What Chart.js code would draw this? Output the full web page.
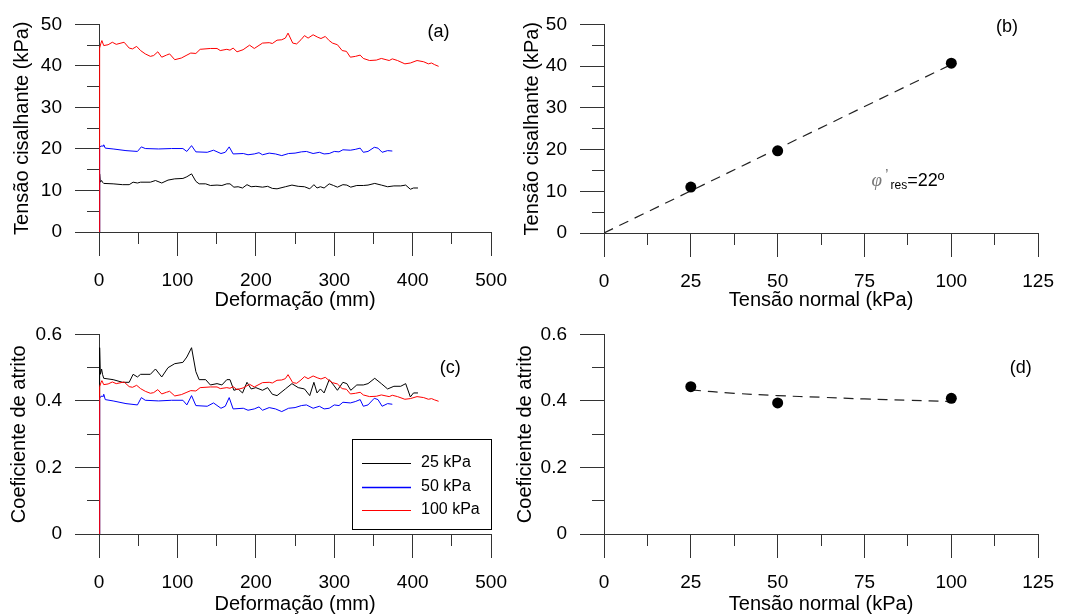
<!DOCTYPE html>
<html>
<head>
<meta charset="utf-8">
<script src="https://cdn.jsdelivr.net/npm/chart.js@4.4.1/dist/chart.umd.min.js"></script>
<style>
  html, body { margin: 0; padding: 0; background: #fff; }
  #wrap { position: relative; width: 1067px; height: 615px; overflow: hidden; }
  #wrap canvas { position: absolute; }
</style>
</head>
<body>
<div id="wrap">
  <canvas id="chartA" width="520" height="310" style="left:0;top:0"></canvas>
  <canvas id="chartB" width="557" height="310" style="left:510px;top:0"></canvas>
  <canvas id="chartC" width="520" height="305" style="left:0;top:310px"></canvas>
  <canvas id="chartD" width="557" height="305" style="left:510px;top:310px"></canvas>
</div>
<script>
// shear stress (kPa) vs displacement (mm), one test per normal stress
const disp25 = [0, 0.8, 1.7, 3.3, 4.5, 6, 18, 30, 38.5, 43.5, 49, 53, 65.5, 72, 80, 88, 96.6, 107, 112, 118, 123.5, 127.7, 136, 142, 150.5, 156.7, 163, 167, 172, 177.4, 183, 188.7, 194, 200, 208.5, 215, 221, 227, 237.6, 246, 254, 262, 268.7, 274, 278, 282.3, 287, 293.5, 299, 304, 311, 316, 321, 328.7, 337, 343, 351.6, 360, 368, 376, 384.7, 391, 397, 401, 406.7];
const tau25 = [0, 14.0, 12.0, 12.4, 12.0, 11.7, 11.6, 11.4, 11.4, 12.0, 11.8, 12.0, 12.0, 12.4, 11.8, 12.5, 12.8, 12.9, 13.3, 14.0, 12.2, 11.6, 11.6, 11.2, 11.3, 11.2, 11.6, 11.6, 10.8, 10.9, 10.6, 11.4, 10.9, 11.0, 10.8, 11.0, 10.5, 10.4, 10.9, 11.3, 11.0, 10.9, 10.4, 11.4, 10.6, 10.9, 10.6, 11.6, 11.2, 10.8, 11.4, 11.3, 10.8, 11.2, 11.2, 11.3, 11.7, 11.3, 10.9, 11.1, 11.1, 11.3, 10.3, 10.6, 10.6];

const disp50 = [0, 0.8, 2.5, 5.4, 6, 8, 18, 34.4, 49, 54, 59, 76, 92.5, 107, 112, 118, 123.5, 138, 146, 155.5, 161, 166, 171, 184, 190, 198, 204, 208.5, 217, 225, 233, 241.7, 250, 258, 264.5, 273, 281, 287, 293.5, 300, 306, 311, 320.5, 326.7, 333, 337, 343, 351, 355.7, 361, 368, 374];
const tau50 = [0, 20.4, 20.7, 20.7, 21.0, 20.2, 20.0, 19.6, 19.4, 20.5, 20.1, 20.0, 20.1, 20.1, 19.4, 20.8, 19.3, 19.2, 19.7, 18.9, 19.2, 20.5, 18.8, 18.9, 18.6, 18.8, 19.1, 18.6, 19.0, 18.8, 18.4, 18.9, 19.0, 19.3, 19.4, 18.9, 19.2, 18.8, 18.9, 19.4, 19.3, 19.8, 19.7, 19.9, 20.2, 19.2, 19.4, 20.4, 20.2, 19.2, 19.6, 19.5];

const disp100 = [0, 0.8, 2.5, 3.7, 6, 11.6, 17, 22, 32, 38.5, 42.7, 48, 53, 59, 65.5, 69.7, 75, 80, 86, 90, 96.6, 105, 111, 117, 123.5, 129, 142, 150.5, 154.6, 163, 167, 171, 176, 183.7, 192, 198, 208.5, 217, 221, 227, 233, 237.6, 241, 247, 252, 257.5, 262, 266.6, 273, 279, 283, 288.5, 293.5, 297.7, 304, 310, 315.5, 320.5, 327, 333, 337, 345, 353.6, 360, 366, 370, 374, 380.6, 390, 397, 405.5, 414, 420, 424, 428, 433];
const tau100 = [0, 44.3, 45.5, 46.1, 44.9, 45.1, 45.7, 45.2, 45.7, 44.3, 44.1, 44.7, 43.7, 42.9, 42.3, 42.5, 43.4, 42.1, 42.6, 42.9, 41.5, 41.9, 42.5, 43.1, 43.0, 44.0, 44.2, 44.2, 43.7, 44.0, 43.8, 44.3, 43.4, 43.9, 45.0, 44.2, 45.5, 45.6, 45.4, 46.2, 46.3, 46.7, 47.9, 45.5, 45.3, 46.3, 47.3, 46.7, 47.5, 46.9, 46.6, 47.1, 46.1, 45.5, 45.1, 43.7, 43.5, 42.1, 42.3, 42.6, 41.8, 41.3, 41.4, 41.8, 41.5, 41.3, 41.7, 41.3, 40.5, 40.7, 41.3, 41.0, 40.5, 40.7, 40.3, 39.9];

const seriesLabels = ['25 kPa', '50 kPa', '100 kPa'];
const seriesColors = ['#000000', '#0000ff', '#ff0000'];

// residual envelope (b) and friction coefficient (d)
const normalStress = [25, 50, 100];
const residualTau = [11.0, 19.7, 40.7];
const residualCoef = [0.443, 0.394, 0.408];
const envelopeX = [0, 100];
const envelopeY = [0, 40.4];
const coefFitX = [25, 37.5, 50, 62.5, 75, 87.5, 100];
const coefFitY = [0.433, 0.423, 0.416, 0.411, 0.406, 0.402, 0.398];

const FONT = '"Liberation Sans", Arial, Helvetica, sans-serif';
const AXIS = '#333';
Chart.defaults.font.family = FONT;
Chart.defaults.font.size = 19;
Chart.defaults.color = '#000';

const PANELS = {
  a: { w: 520, h: 310, area: { l: 99, t: 23, r: 501, b: 232 }, yTitlePad: 10, xTitlePad: -2 },
  b: { w: 557, h: 310, area: { l: 94, t: 24, r: 530, b: 233 }, yTitlePad: 10, xTitlePad: -2 },
  c: { w: 520, h: 305, area: { l: 99, t: 16, r: 501, b: 224 }, yTitlePad: 7, xTitlePad: -1 },
  d: { w: 557, h: 305, area: { l: 94, t: 16, r: 530, b: 224 }, yTitlePad: 3, xTitlePad: -1 },
};

const pts = (xs, ys) => xs.map((x, i) => ({ x, y: ys[i] }));
const fmt = (v) => String(Number(v.toFixed(2)));

function axis(p, isX, min, max, step, title) {
  return {
    type: 'linear', min, max,
    position: isX ? 'bottom' : 'left',
    ticks: { stepSize: step, autoSkip: false, maxRotation: 0, padding: 13, color: '#000',
      font: { size: 19 }, callback: fmt },
    grid: { drawOnChartArea: false, drawTicks: true, tickLength: 24, color: AXIS, lineWidth: 1 },
    border: { display: true, color: AXIS, width: 1 },
    title: { display: true, text: title, color: '#000', font: { size: 20 },
      padding: isX ? { top: 0, bottom: p.xTitlePad } : { top: p.yTitlePad, bottom: 0 } },
    afterFit(s) { if (isX) s.height = p.h - p.area.b; else s.width = p.area.l; },
  };
}

// short outward ticks between the labelled ones
const minorTicks = {
  id: 'minorTicks',
  afterDraw(chart, args, opts) {
    const { ctx, chartArea, scales } = chart;
    const al = (v) => Math.round(v - 0.5) + 0.5;
    ctx.save();
    ctx.strokeStyle = AXIS;
    ctx.lineWidth = 1;
    ctx.beginPath();
    (opts.x || []).forEach((v) => {
      const px = al(scales.x.getPixelForValue(v));
      ctx.moveTo(px, chartArea.bottom); ctx.lineTo(px, chartArea.bottom + 12);
    });
    (opts.y || []).forEach((v) => {
      const py = al(scales.y.getPixelForValue(v));
      ctx.moveTo(chartArea.left, py); ctx.lineTo(chartArea.left - 12, py);
    });
    ctx.stroke();
    ctx.restore();
  },
};

// panel letters and the friction angle note, placed in data units
const notes = {
  id: 'notes',
  afterDraw(chart, args, opts) {
    const { ctx, scales } = chart;
    ctx.save();
    (opts.items || []).forEach((it) => {
      let x = scales.x.getPixelForValue(it.x);
      const y = scales.y.getPixelForValue(it.y);
      ctx.textAlign = it.runs ? 'left' : 'center';
      ctx.textBaseline = it.runs ? 'alphabetic' : 'middle';
      const runs = it.runs || [{ text: it.text }];
      runs.forEach((r) => {
        ctx.font = r.font || '18px ' + FONT;
        ctx.fillStyle = r.color || '#000';
        ctx.fillText(r.text, x, y + (r.dy || 0));
        if (it.runs) x += ctx.measureText(r.text).width + (r.gap || 0);
      });
    });
    ctx.restore();
  },
};

// boxed legend inside panel (c)
const boxLegend = {
  id: 'boxLegend',
  afterDraw(chart, args, opts) {
    const { ctx } = chart;
    const b = opts.box;
    ctx.save();
    ctx.strokeStyle = '#000';
    ctx.lineWidth = 1;
    ctx.strokeRect(b.x + 0.5, b.y + 0.5, b.w, b.h);
    ctx.font = '16px ' + FONT;
    ctx.textBaseline = 'middle';
    ctx.textAlign = 'left';
    seriesLabels.forEach((lab, i) => {
      const y = b.y + opts.rows[i];
      ctx.strokeStyle = seriesColors[i];
      ctx.lineWidth = i === 1 ? 1.5 : 1;
      ctx.beginPath();
      ctx.moveTo(b.x + 10, y + 0.5); ctx.lineTo(b.x + 59, y + 0.5);
      ctx.stroke();
      ctx.fillStyle = '#000';
      ctx.fillText(lab, b.x + 69, y);
    });
    ctx.restore();
  },
};

function curveSets(ys25, ys50, ys100) {
  return [
    { label: seriesLabels[0], data: pts(disp25, ys25), borderColor: seriesColors[0], order: 2 },
    { label: seriesLabels[1], data: pts(disp50, ys50), borderColor: seriesColors[1], order: 1 },
    { label: seriesLabels[2], data: pts(disp100, ys100), borderColor: seriesColors[2], order: 0 },
  ].map((d) => ({ ...d, borderWidth: 1, pointRadius: 0, tension: 0, fill: false }));
}

function baseOptions(p) {
  return {
    responsive: false,
    animation: false,
    layout: { padding: { top: p.area.t, right: p.w - p.area.r, left: 0, bottom: 0 } },
  };
}
const quiet = { legend: { display: false }, tooltip: { enabled: false } };

// (a) shear stress curves
new Chart(document.getElementById('chartA'), {
  type: 'line',
  data: { datasets: curveSets(tau25, tau50, tau100) },
  options: {
    ...baseOptions(PANELS.a),
    scales: {
      x: axis(PANELS.a, true, 0, 500, 100, 'Deformação (mm)'),
      y: axis(PANELS.a, false, 0, 50, 10, 'Tensão cisalhante (kPa)'),
    },
    plugins: {
      ...quiet,
      minorTicks: { x: [50, 150, 250, 350, 450], y: [5, 15, 25, 35, 45] },
      notes: { items: [{ x: 433, y: 48.1, text: '(a)' }] },
    },
  },
  plugins: [minorTicks, notes],
});

// (b) residual strength envelope
new Chart(document.getElementById('chartB'), {
  type: 'scatter',
  data: {
    datasets: [
      { data: pts(normalStress, residualTau), backgroundColor: '#000', borderWidth: 0, pointRadius: 5.5 },
      { data: pts(envelopeX, envelopeY), showLine: true, borderColor: '#222', borderWidth: 1.2,
        borderDash: [10, 7], pointRadius: 0 },
    ],
  },
  options: {
    ...baseOptions(PANELS.b),
    scales: {
      x: axis(PANELS.b, true, 0, 125, 25, 'Tensão normal (kPa)'),
      y: axis(PANELS.b, false, 0, 50, 10, 'Tensão cisalhante (kPa)'),
    },
    plugins: {
      ...quiet,
      minorTicks: { x: [12.5, 37.5, 62.5, 87.5, 112.5], y: [5, 15, 25, 35, 45] },
      notes: { items: [
        { x: 116, y: 49.4, text: '(b)' },
        { x: 77, y: 11.3, runs: [
          { text: 'φ', font: 'italic 19px "Liberation Serif", serif', color: '#777', gap: 3 },
          { text: '’', font: '16px ' + FONT, color: '#777', gap: 2, dy: -5 },
          { text: 'res', font: '12px ' + FONT, dy: 3 },
          { text: '=22º', font: '18px ' + FONT },
        ] },
      ] },
    },
  },
  plugins: [minorTicks, notes],
});

// (c) friction coefficient = shear stress / normal stress
new Chart(document.getElementById('chartC'), {
  type: 'line',
  data: {
    datasets: curveSets(tau25.map((t) => t / 25), tau50.map((t) => t / 50), tau100.map((t) => t / 100)),
  },
  options: {
    ...baseOptions(PANELS.c),
    scales: {
      x: axis(PANELS.c, true, 0, 500, 100, 'Deformação (mm)'),
      y: axis(PANELS.c, false, 0, 0.6, 0.2, 'Coeficiente de atrito'),
    },
    plugins: {
      ...quiet,
      minorTicks: { x: [50, 150, 250, 350, 450], y: [0.1, 0.3, 0.5] },
      notes: { items: [{ x: 448, y: 0.5, text: '(c)' }] },
      boxLegend: { box: { x: 352, y: 129, w: 139, h: 90 }, rows: [24, 48, 71] },
    },
  },
  plugins: [minorTicks, notes, boxLegend],
});

// (d) residual friction coefficient vs normal stress
new Chart(document.getElementById('chartD'), {
  type: 'scatter',
  data: {
    datasets: [
      { data: pts(normalStress, residualCoef), backgroundColor: '#000', borderWidth: 0, pointRadius: 5.5 },
      { data: pts(coefFitX, coefFitY), showLine: true, borderColor: '#222', borderWidth: 1.2,
        borderDash: [10, 7], pointRadius: 0, tension: 0.4 },
    ],
  },
  options: {
    ...baseOptions(PANELS.d),
    scales: {
      x: axis(PANELS.d, true, 0, 125, 25, 'Tensão normal (kPa)'),
      y: axis(PANELS.d, false, 0, 0.6, 0.2, 'Coeficiente de atrito'),
    },
    plugins: {
      ...quiet,
      minorTicks: { x: [12.5, 37.5, 62.5, 87.5, 112.5], y: [0.1, 0.3, 0.5] },
      notes: { items: [{ x: 120, y: 0.5, text: '(d)' }] },
    },
  },
  plugins: [minorTicks, notes],
});
</script>
</body>
</html>
